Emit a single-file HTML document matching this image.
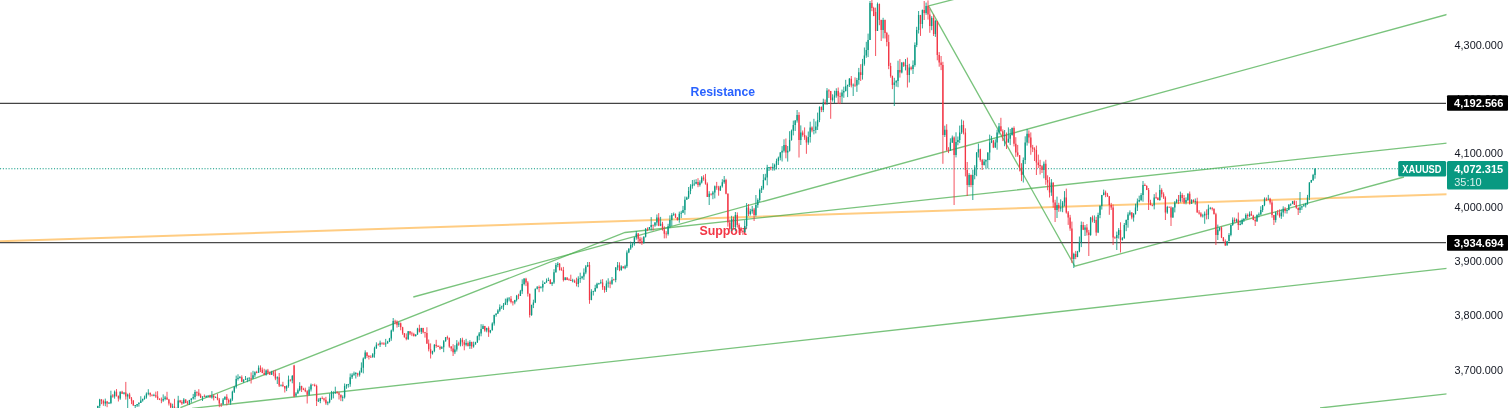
<!DOCTYPE html>
<html lang="en">
<head>
<meta charset="utf-8">
<title>XAUUSD chart</title>
<style>
html,body{margin:0;padding:0;background:#fff;}
body{width:1510px;height:408px;overflow:hidden;position:relative;font-family:"Liberation Sans",Arial,sans-serif;}
svg{position:absolute;left:0;top:0;display:block;}
text{font-family:"Liberation Sans",Arial,sans-serif;}
.ax{font-size:11.6px;fill:#131722;}
.lb{font-size:11.7px;font-weight:700;fill:#fff;}
</style>
</head>
<body>
<svg width="1510" height="408" viewBox="0 0 1510 408">
<defs><clipPath id="pane"><rect x="0" y="0" width="1446.5" height="408"/></clipPath></defs>
<rect width="1510" height="408" fill="#fff"/>
<g clip-path="url(#pane)">
<!-- current price dotted line -->
<line x1="0" y1="168.8" x2="1398" y2="168.8" stroke="#089981" stroke-opacity="1" stroke-width="1.1" stroke-dasharray="1.1 1.74"/>
<!-- orange trend -->
<line x1="0" y1="241.3" x2="1447" y2="194.3" stroke="#ffb74d" stroke-opacity=".7" stroke-width="2"/>
<!-- green trend lines -->
<g stroke="#4caf50" stroke-width="1.3" fill="none" stroke-opacity=".75">
<polyline points="180.4,407.7 625,232.5 1447,143.2"/>
<line x1="413.3" y1="297" x2="1447" y2="14.5"/>
<line x1="192" y1="408.4" x2="1447" y2="268.4"/>
<line x1="1320" y1="408" x2="1447" y2="393.9"/>
<polyline points="963.1,-3 928.6,5.9 1074.8,266.2 1404,177"/>
</g>
<!-- horizontal levels -->
<line x1="0" y1="103.38" x2="1446" y2="103.38" stroke="#444" stroke-width="1.25"/>
<line x1="0" y1="242.62" x2="1446" y2="242.62" stroke="#4a4a4a" stroke-width="1.25"/>
<!-- text drawings -->
<text x="690.6" y="96" font-size="12.5" font-weight="700" fill="#2962ff" textLength="64.4" lengthAdjust="spacingAndGlyphs">Resistance</text>
<text x="699.4" y="234.8" font-size="12.5" font-weight="700" fill="#f23645" textLength="47.5" lengthAdjust="spacingAndGlyphs">Support</text>
<path d="M97.8 405.7V410M99.7 398.8V409.3M105.3 398.6V406.2M109 402V404M110.9 390.7V404.1M114.6 390.5V398.7M120.2 391.4V399.8M124 392.3V394.5M127.7 393.6V408M135.2 405.1V408.8M137.1 404V407M138.9 402.1V406.6M140.8 396.2V403M142.7 398.6V401.7M144.5 395.6V399.7M146.4 392.4V398.7M148.3 389.2V395.3M153.9 393.8V396.3M163.2 394.4V401.8M165.1 395.9V400.4M172.6 403.7V408.4M178.2 395.8V409M183.8 398.1V403.6M189.4 399.8V405M191.3 398.3V402.7M193.2 393.9V399.6M195 389.9V399.5M202.5 396.3V401M206.2 395.4V397.7M208.1 395.4V397.6M211.9 391.1V398.6M215.6 396.4V397.9M223.1 398V404.7M224.9 396.5V399.9M230.6 398.5V404.8M232.4 390.7V400.9M234.3 386.2V393M236.2 375.6V388.5M238 374.3V380.5M239.9 376V378.6M243.6 379.1V382.9M245.5 376V380M247.4 377.7V382.2M249.2 377.3V381.3M253 370.8V378.8M254.9 371.3V377.3M258.6 365.4V372.9M266.1 369.5V375.7M271.7 370.8V374.9M277.3 376.3V384M281 384.7V386.5M286.6 385.3V391.1M288.5 375.6V387.7M292.3 375V383.3M296 392.1V395.1M297.9 388.5V393.7M299.7 382.2V391.3M309.1 386.6V395.6M311 383.5V391.5M318.4 398.3V401.9M320.3 397.7V403.2M327.8 401.3V405.2M329.6 393.4V403.3M331.5 390.9V399.9M333.4 391.3V398.4M335.3 386.7V394M342.7 395.4V401.3M344.6 383.5V398.5M346.5 384.2V388.8M348.3 383.9V387.6M350.2 373.5V386.8M352.1 373.2V379M354 371.6V375.9M355.8 372.1V378.5M359.6 370.6V376.6M361.4 362.4V372.6M363.3 357.4V373.4M365.2 350.3V359.2M372.7 353.1V357.6M374.5 346.7V357.7M376.4 342.3V348.9M380.1 340.6V347M385.7 338.9V346.9M387.6 340.8V343.5M389.5 337.9V342.1M391.3 329.6V340.8M393.2 318V331.8M398.8 321.8V327M408.2 331V340M415.7 334.3V336.6M417.5 327.8V334.8M421.3 327.8V334M432.5 350.7V354.6M434.4 344.1V352.2M441.8 346.2V349M443.7 340.1V352.2M445.6 337.2V341.7M454.9 345.2V354.1M456.8 340.1V351.5M460.5 338.1V346.4M466.1 338.8V346.3M469.9 340.2V348.9M473.6 341.6V347.7M475.5 341.8V344.5M477.4 335.6V343M479.2 332V340.3M481.1 324.2V336.3M483 324.3V329.1M486.7 327.7V332.3M490.4 329.9V333.3M492.3 322.3V330.5M494.2 314.7V325.6M496.1 313.5V316.7M497.9 309.2V314M499.8 304.4V311.8M501.7 305.7V309M503.5 303V309.9M505.4 298.6V304.8M507.3 297.5V305.1M509.1 297V301.4M514.8 299.8V304.3M516.6 294.9V301.5M520.4 289.9V296M522.2 279.3V293.9M524.1 278V285.4M531.6 304.6V315.9M533.4 299.7V308.1M535.3 288.6V303.1M537.2 286V289.4M540.9 286.1V288.5M542.8 280.5V291.7M544.7 282.3V284M546.5 278.5V282.6M548.4 277.6V281.1M552.1 281.9V285.9M554 269.2V283.9M555.9 263V272.7M557.8 262.1V267.2M565.2 277.2V280.3M572.7 278.8V282.4M578.3 276.3V287.2M580.2 272.7V282.9M582.1 275.8V279.4M583.9 268.4V279.9M585.8 265V274.2M587.7 262V267.1M591.4 289.2V300.3M593.3 290.8V295.5M595.2 284.8V291.9M597 282.7V288.6M598.9 282.8V284.9M600.8 279.6V284.1M606.4 280.5V292M608.2 278.3V287.6M612 277V284.8M615.7 267.1V282.3M617.6 262V270.2M621.3 265.3V270.8M625.1 264.8V269.3M626.9 250.4V267.9M628.8 248.4V253.2M630.7 241.6V249.9M632.5 242.4V247.5M634.4 236.9V245.7M636.3 231V239.7M643.8 236.3V243.8M645.6 228V237.5M649.4 227V229.7M651.2 217.1V230.4M655 222.2V226.8M656.9 214.5V225.6M660.6 216.9V226.2M668.1 223.8V235.5M669.9 215.4V228.1M671.8 213.1V226M673.7 212.5V215.9M679.3 211.6V222.7M681.2 210.8V218.1M683 205.9V213.1M684.9 196.5V214.7M686.8 196.6V199.7M688.6 187V199M690.5 184.2V194.2M692.4 180V188.7M694.2 179.7V186.1M696.1 179.2V184.3M699.9 180.3V186.6M701.7 176.1V183.5M709.2 191.2V205M712.9 190.9V199.2M714.8 185.5V198.4M720.4 185.7V190.9M722.3 179.2V187.6M724.2 176V183.8M731.6 215.8V231.1M735.4 212V230.9M744.7 220.2V232.7M746.6 203.1V228.6M750.3 208.8V215.5M752.2 205.9V213.7M755.9 195V216.5M757.8 198.4V207.8M759.7 188.5V202.1M761.6 185.9V193M763.4 174.1V189.7M765.3 173.8V180.5M767.2 164.8V185.3M769 167V171M772.8 163.2V170.7M774.6 163.7V170.5M776.5 158.7V169.4M778.4 156.6V165M780.3 152V160.3M782.1 146.1V161.5M784 139.3V152.5M787.7 146V161.6M789.6 131.2V151.6M791.5 129.6V140.7M793.3 120.6V135.4M795.2 120.1V131M797.1 110V122.6M800.8 125.4V145M808.3 131.5V144.8M810.2 121.7V142.6M813.9 118.8V134.4M815.8 121.4V133.4M817.6 112.6V130M819.5 106.3V122.2M823.3 98.7V112.1M827 88.1V105M832.6 94.3V101.6M834.5 90.7V103.1M836.3 88.3V97.7M842 89.6V102.8M843.8 86.7V97.8M845.7 79.8V91.5M847.6 84.6V97.1M849.4 78V87M853.2 83.5V96M856.9 77.9V91.9M858.8 67.9V84.6M862.5 58.9V79.6M864.4 47.5V65.7M866.3 41.8V57.8M868.1 33.6V57.1M870 1V40M877.5 2.5V31M883.1 17.8V38.4M894.3 77.8V106M896.2 80.1V86.7M898 60.7V87.2M901.8 62.2V73.4M905.5 59V70.4M909.3 63.8V82.5M913 60.4V74M914.9 42.4V66.7M916.7 26.8V47.1M918.6 11V33.5M922.4 9.5V28.4M926.1 2.6V14.8M931.7 16.2V30.2M935.4 19.9V36.9M944.8 125.7V137M950.4 138.3V150.8M952.3 135.5V143M956 132.3V157.4M957.9 136.5V145.3M959.7 125.6V143.1M961.6 119.5V134M969.1 173.1V187.1M972.8 169.7V200M974.7 165.2V179.3M976.6 152.1V176.2M978.4 143.6V157.5M984.1 159.2V165.5M985.9 159.4V168.2M987.8 152.3V168.3M989.7 134.6V160.1M991.5 135.9V143.1M995.3 139.3V147.8M997.1 129.7V149.7M999 123V134.5M1004.6 130V146.2M1008.4 127.4V142.6M1010.2 129V145.1M1012.1 127.5V135.7M1023.3 157.5V182.5M1025.2 136.3V164.1M1027.1 129V145.6M1043.9 161.5V178.3M1051.4 179.1V195.9M1057 196.6V218M1060.7 199.3V211.6M1062.6 201V212.2M1064.5 191.1V206.4M1073.8 252.7V268M1077.5 250.9V257.2M1079.4 236.5V252.3M1081.3 221.5V247.1M1085 225.1V236M1090.6 216.9V235.8M1094.4 215.4V223M1098.1 212.7V233.1M1100 205.1V218.2M1101.8 194.9V209.6M1103.7 189.6V195.4M1116.8 231.6V250M1118.7 228.1V238.6M1122.4 237.1V240.6M1124.3 223V238.9M1126.2 219.5V231.2M1128 212.3V227.7M1129.9 210.4V215.6M1133.6 213V221.6M1135.5 203.7V214.4M1137.4 198.5V211M1139.2 195.7V202.4M1141.1 193.1V201.2M1143 181V201.7M1154.2 194.1V209.4M1159.8 184.8V200.8M1167.3 205.8V213.8M1172.9 207.2V217.8M1174.8 201V212.4M1176.6 198.9V203.4M1180.4 191.6V202.5M1186 197.4V204.4M1187.9 193.2V201.1M1191.6 199.2V203.9M1195.3 198.5V204.6M1202.8 213.8V217.5M1204.7 211.5V223.8M1208.4 204.7V219.2M1210.3 206.9V209.5M1217.8 224.6V240M1219.6 227.4V231.2M1227.1 241.2V245.4M1229 233.1V241.3M1230.9 224.9V236.3M1232.7 217.4V225.9M1236.5 218.6V222.3M1240.2 220.5V225.3M1242.1 218.6V224.7M1243.9 218.3V222M1245.8 213.4V219M1249.6 211.5V217.2M1257 214.3V222M1258.9 212.5V217.4M1260.8 206.3V214.8M1262.6 205V212.1M1264.5 197.4V206.2M1268.3 194.9V200.2M1275.7 211.6V222.5M1281.3 209.4V218.9M1283.2 206.3V216.7M1287 209.3V213.6M1288.8 204.4V210.4M1290.7 203.6V206.1M1292.6 200.9V204.2M1300 192V213M1301.9 205.9V209.9M1303.8 203.9V206.6M1305.7 202.8V207.5M1307.5 194.9V204.8M1309.4 182.2V200.1M1311.3 179.9V182.7M1313.1 173.9V181M1315 168.1V178.7" stroke="#089981" stroke-width="1" stroke-opacity=".85" fill="none"/>
<path d="M101.5 399.1V404.2M103.4 399.6V405.8M107.1 400.9V407.2M112.8 394.1V397.7M116.5 389.1V396.6M118.4 395.4V401.5M122.1 390.8V394M125.8 381.9V399.6M129.6 392.8V398.8M131.5 397V404.1M133.3 400V405.7M150.2 392.7V396.7M152 394.5V396.3M155.8 391.6V397.9M157.6 391.2V400M159.5 398.6V400.1M161.4 397.5V403.2M167 391.8V399.9M168.9 398.9V405.5M170.7 402.7V410M174.5 398.8V410M176.3 407.6V410M180.1 399.9V403.1M181.9 400.2V404.9M185.7 399.3V403.2M187.5 400.8V404.6M196.9 391.3V396.1M198.8 389.2V396.3M200.6 393.6V398M204.4 394.5V396.9M210 394.8V397.7M213.7 394.3V400.5M217.5 393.7V400.3M219.3 398V407.2M221.2 403.4V407M226.8 394.2V405.3M228.7 398.6V403.8M241.8 375.4V381.9M251.1 372.4V383.5M256.7 370.8V373.3M260.5 365.4V372.1M262.3 367.5V373.2M264.2 368.8V375.3M267.9 368.9V374.4M269.8 371.6V374.9M273.6 370.6V376.2M275.4 369.9V380.2M279.2 373V387M282.9 381.8V387.1M284.8 386V392.5M290.4 379.3V381.5M294.1 364.8V397.2M301.6 385.7V392M303.5 387.8V390.2M305.3 387.7V392.2M307.2 390.2V403.5M312.8 384.6V385.5M314.7 383.6V386.6M316.6 384.6V406M322.2 396.4V399.2M324 397.8V401.5M325.9 396.8V404.8M337.1 391.1V393.5M339 391.8V399.5M340.9 394.6V401.1M357.7 372.8V376.7M367 352.3V357.9M368.9 355V359.5M370.8 355.2V357.8M378.3 343.5V345.3M382 342.5V344.7M383.9 342.3V344.9M395.1 319.7V324.3M397 320.4V327.6M400.7 322.5V330.3M402.6 326.8V334.8M404.4 333.1V337.6M406.3 333.4V340.3M410 331.2V335.1M411.9 331.8V336.1M413.8 332.8V336.6M419.4 324.7V332.5M423.1 327.8V333.4M425 331.9V337.6M426.9 327.3V344M428.7 339.5V351.4M430.6 343.4V358.5M436.2 339.8V347.8M438.1 345.1V346.9M440 345.6V349.9M447.4 335.6V339.7M449.3 337.7V347.8M451.2 346.1V351.3M453.1 344.2V356M458.7 341.7V345.8M462.4 337.7V346.2M464.3 340.1V350.3M468 341.4V346.5M471.7 341.7V348.8M484.8 325.9V331.8M488.6 326.4V336.9M511 296V303.4M512.9 301V305.5M518.5 293.8V299.2M526 277.8V286.1M527.8 281.1V296.6M529.7 293.6V317.5M539.1 285.5V292.2M550.3 279V284.1M559.6 263V270.6M561.5 267.4V270.4M563.4 266.9V281.5M567.1 277.3V280.1M569 278.4V280.2M570.8 274.7V281M574.6 279.5V282.8M576.5 277.7V286.4M589.5 262V303.8M602.6 279.1V289.9M604.5 286V292.7M610.1 280.7V288.2M613.8 278.8V280.4M619.5 262.3V271.2M623.2 266.1V268.4M638.2 233V242.2M640 236.8V243.7M641.9 237.5V244.9M647.5 227.4V231.1M653.1 224.9V230.6M658.7 213.1V226.2M662.5 221.8V230.6M664.3 226.3V238.4M666.2 231.2V238.3M675.5 213.4V218M677.4 217.1V220.6M698 178.2V187.2M703.6 175.2V180.8M705.5 173.9V184.7M707.3 182.4V196.9M711.1 193.5V195.5M716.7 181.9V189.8M718.6 185.8V195.7M726 178.8V194.3M727.9 193.3V226.6M729.8 219.5V230.2M733.5 216.6V229.4M737.3 212.4V227.5M739.1 223.3V233.3M741 226.9V232.8M742.9 230V235M748.5 204V216M754.1 207.9V221M770.9 166.6V170.2M785.9 138.5V158.3M799 112.2V157.5M802.7 130.5V136.7M804.6 127.4V139.9M806.4 135.6V153.8M812 126.4V132.3M821.4 106.4V112.1M825.1 99.5V104.9M828.9 89.2V98M830.7 90.9V118.8M838.2 87.5V104M840.1 92.5V104.1M851.3 76V87.4M855 77.4V86.9M860.7 64.2V81M871.9 -0.4V11.2M873.7 6.8V16.2M875.6 7.6V56M879.4 3.5V25.2M881.2 19.7V41M885 19.6V38.5M886.8 31.9V46.3M888.7 34.7V69.2M890.6 62.8V77.7M892.4 75.6V89.1M899.9 59.1V77.6M903.7 61.8V67M907.4 57.6V87.5M911.1 66.3V70.3M920.5 14.9V35.9M924.2 1V20M928 0.4V19.6M929.8 8.7V32.8M933.6 14.4V36M937.3 20.9V60.3M939.2 52.1V66.7M941.1 56V70.1M942.9 61.8V163.8M946.7 124.2V151.3M948.5 147.2V153.1M954.1 136.4V205M963.5 120.6V134.4M965.4 128.3V176.4M967.2 162V196M971 174.5V187.2M980.3 148.7V161.7M982.2 158.9V170M993.4 140V148.1M1000.9 117.8V131.5M1002.8 129.4V141.1M1006.5 132.5V149M1014 126.4V146.4M1015.8 137.2V156.9M1017.7 144.9V156.8M1019.6 155.1V171.4M1021.5 163.2V181.1M1028.9 130.4V143.3M1030.8 132.4V154.8M1032.7 144.9V152.1M1034.5 147.3V161M1036.4 145.6V175M1038.3 154.6V168M1040.1 159.8V174.5M1042 165.1V173M1045.8 159.8V184.8M1047.6 175.3V190.2M1049.5 177.1V197.5M1053.2 182.5V207.7M1055.1 199.8V222M1058.8 202.8V211.8M1066.3 188.6V213.6M1068.2 211V224.9M1070.1 214.9V230.8M1071.9 221.6V263M1075.7 250.9V259.2M1083.2 221.9V230.1M1086.9 224.1V235.5M1088.8 229.9V256M1092.5 215.5V222.4M1096.2 216.8V235.8M1105.6 190.6V197.2M1107.5 192.9V196.9M1109.3 196.2V214.8M1111.2 202.9V209.9M1113.1 204.5V245M1114.9 236.4V238.7M1120.5 222.3V252.5M1131.8 212.1V219.3M1144.9 183.5V186M1146.7 185.2V190.1M1148.6 188V210M1150.5 199.8V205.4M1152.3 204.4V206.3M1156.1 192.4V198.9M1157.9 197.3V200.2M1161.7 188.3V197.4M1163.6 192.3V199M1165.4 196.3V220M1169.2 206.8V207.6M1171 206.3V226M1178.5 195V204.1M1182.2 193.2V202M1184.1 195V204.2M1189.7 191.5V204.6M1193.5 199.3V202.5M1197.2 197.7V212.7M1199.1 210.2V214.6M1200.9 212.2V217.3M1206.6 209.4V219.4M1212.2 207.2V210.5M1214 208.5V214.3M1215.9 212.8V245M1221.5 226.5V238.1M1223.4 237V241.5M1225.3 239.4V245.8M1234.6 217.6V222.6M1238.3 212.5V230M1247.7 213.5V218.7M1251.4 211.1V215.8M1253.3 214.8V220.2M1255.2 217.8V226M1266.4 197.5V201M1270.1 197.8V204.5M1272 200.4V217.7M1273.9 214.9V225M1277.6 210.1V215.3M1279.5 209.4V217.7M1285.1 207.1V213.4M1294.4 200.3V205M1296.3 200.9V208.8M1298.2 207.6V215" stroke="#f23645" stroke-width="1" stroke-opacity=".85" fill="none"/>
<path d="M97.8 406V409M99.7 399.6V406M105.3 401.6V403.5M109 402.8V403.6M110.9 395.6V402.9M114.6 391.7V396.5M120.2 391.8V398.6M124 392.5V393.7M127.7 394.4V396.5M135.2 405.1V405.9M137.1 404.1V405.5M138.9 402.9V404.1M140.8 400.5V402.9M142.7 399.1V400.5M144.5 397.6V399.1M146.4 393.8V397.6M148.3 392.7V393.8M153.9 395V395.8M163.2 399V400.5M165.1 397.6V399M172.6 406.4V407.6M178.2 400.5V409M183.8 399.5V403.5M189.4 400.1V403.5M191.3 398.6V400.1M193.2 397.1V398.6M195 392V397.1M202.5 396.6V397.6M206.2 396.1V396.9M208.1 395.4V396.2M211.9 395.8V397.6M215.6 397V397.8M223.1 399.6V404.3M224.9 396.7V399.6M230.6 399.6V402.5M232.4 391.8V399.6M234.3 386.8V391.8M236.2 379V386.8M238 377.7V379M239.9 377.1V377.9M243.6 380V381.7M245.5 379.3V380.1M247.4 378.5V379.5M249.2 377.8V378.6M253 375.2V378.7M254.9 372.2V375.2M258.6 367.7V372.7M266.1 370.4V374.8M271.7 372.2V374.8M277.3 377.2V378.5M281 384.7V385.5M286.6 386V388.5M288.5 379.8V386M292.3 376V380.4M296 393.5V396.5M297.9 390.3V393.5M299.7 386V390.3M309.1 389.6V394.8M311 384.8V389.6M318.4 400.6V401.4M320.3 398.1V401M327.8 402.2V403.3M329.6 398.5V402.2M331.5 393.5V398.5M333.4 392.9V393.7M335.3 392.2V393.1M342.7 397V397.8M344.6 386V397.2M346.5 384.6V386M348.3 384V384.8M350.2 377.2V384.2M352.1 374.8V377.2M354 373.5V374.8M355.8 373.1V373.9M359.6 372.2V374.7M361.4 367.8V372.2M363.3 358.5V367.8M365.2 352.4V358.5M372.7 354.2V357.2M374.5 348.2V354.2M376.4 344.8V348.2M380.1 342.7V344.8M385.7 343.5V344.3M387.6 341.5V343.5M389.5 338.5V341.5M391.3 330.5V338.5M393.2 321V330.5M398.8 323.3V324.8M408.2 331.3V339M415.7 334.4V336M417.5 328.5V334.4M421.3 327.9V331.8M432.5 351V353.5M434.4 344.8V351M441.8 347.3V348.5M443.7 341.2V347.3M445.6 337.2V341.2M454.9 349.4V352.2M456.8 343.5V349.4M460.5 339.7V344.5M466.1 343.1V344.8M469.9 341.9V346M473.6 344.4V346.4M475.5 342.2V344.4M477.4 336.2V342.2M479.2 333.5V336.2M481.1 329V333.5M483 326V329M486.7 327.9V330.5M490.4 330.3V332.2M492.3 323.5V330.3M494.2 315.1V323.5M496.1 313.5V315.1M497.9 310.5V313.5M499.8 307.2V310.5M501.7 306.5V307.3M503.5 304.7V306.5M505.4 302.5V304.7M507.3 298.8V302.5M509.1 298.4V299.2M514.8 300V302.4M516.6 295.7V300M520.4 291.2V295.9M522.2 284.1V291.2M524.1 278.8V284.1M531.6 305V315M533.4 302.5V305M535.3 288.8V302.5M537.2 287.2V288.8M540.9 287.2V288M542.8 283.9V287.5M544.7 282.5V283.9M546.5 281V282.5M548.4 280V281M552.1 282.5V284M554 272.3V282.5M555.9 265V272.3M557.8 263.8V265M565.2 277.5V280M572.7 280.5V281.3M578.3 278.8V284.1M580.2 278V278.8M582.1 276.6V278M583.9 272.5V276.6M585.8 266.4V272.5M587.7 265V266.4M591.4 291.5V300M593.3 291V291.8M595.2 288V291.2M597 283.8V288M598.9 282.9V283.8M600.8 282.3V283.1M606.4 283.6V290M608.2 282.5V283.6M612 279.8V283.7M615.7 267.5V280M617.6 265.3V267.5M621.3 266.6V270M625.1 266.2V268.3M626.9 252.5V266.2M628.8 248.6V252.5M630.7 245V248.6M632.5 243.9V245M634.4 237.5V243.9M636.3 233.5V237.5M643.8 236.8V243M645.6 229V236.8M649.4 227.1V229.1M651.2 225V227.1M655 222.5V225.5M656.9 217.5V222.5M660.6 223.8V225.8M668.1 226.2V233.9M669.9 220.1V226.2M671.8 215V220.1M673.7 214.2V215M679.3 213.8V220M681.2 212.8V213.8M683 210V212.8M684.9 199.7V210M686.8 197.5V199.7M688.6 191.1V197.5M690.5 186.2V191.1M692.4 184.6V186.2M694.2 183.8V184.6M696.1 181.9V183.8M699.9 182.6V185M701.7 177.5V182.6M709.2 193.8V196.9M712.9 192.5V194.6M714.8 186.2V192.5M720.4 186.2V190.6M722.3 182.3V186.2M724.2 180V182.3M731.6 219V229M735.4 215V227M744.7 226V232M746.6 207.5V226M750.3 211.2V214M752.2 209.6V211.2M755.9 205V215M757.8 200V205M759.7 190V200M761.6 188V190M763.4 180V188M765.3 177.6V180M767.2 167.6V177.6M769 167.1V167.9M772.8 167.1V167.9M774.6 165V167.5M776.5 160.9V165M778.4 157.7V160.9M780.3 152.5V157.7M782.1 150.8V152.5M784 145V150.8M787.7 150.7V152.5M789.6 140V150.7M791.5 130.8V140M793.3 125V130.8M795.2 120.5V125M797.1 115V120.5M800.8 132.5V140M808.3 137V142.5M810.2 127.5V137M813.9 129.9V130.7M815.8 126.4V130M817.6 120V126.4M819.5 107V120M823.3 102.3V110M827 90.5V102.5M832.6 97.5V100M834.5 95.5V97.5M836.3 91.1V95.5M842 92.5V96.4M843.8 91V92.5M845.7 86.2V91M847.6 85.1V86.2M849.4 78.8V85.1M853.2 84.8V85.6M856.9 80V85.5M858.8 72.3V80M862.5 63.8V75M864.4 55.6V63.8M866.3 50V55.6M868.1 40V50M870 3V40M877.5 4V31M883.1 20V30M894.3 82.5V85M896.2 81.1V82.5M898 70V81.1M901.8 62.5V72.5M905.5 65V65.8M909.3 67.5V75M913 65V69.1M914.9 45V65M916.7 30V45M918.6 15V30M922.4 10V24M926.1 6V13M931.7 18V26M935.4 21V34M944.8 129.8V135M950.4 142.5V150.6M952.3 137.5V142.5M956 141.9V155M957.9 140V141.9M959.7 132.5V140M961.6 125V132.5M969.1 175V185M972.8 175V185.1M974.7 167.5V175M976.6 152.5V167.5M978.4 149.3V152.5M984.1 161.6V165M985.9 160V161.6M987.8 152.5V160M989.7 142.5V152.5M991.5 140.6V142.5M995.3 142.5V147.5M997.1 132.5V142.5M999 126.2V132.5M1004.6 135V136.3M1008.4 138.8V142.5M1010.2 135V138.8M1012.1 128.1V135M1023.3 160V175M1025.2 142.5V160M1027.1 133.8V142.5M1043.9 163.8V170M1051.4 182.5V192.5M1057 205V210M1060.7 207.5V208.4M1062.6 202.5V207.5M1064.5 197.5V202.5M1073.8 254V259M1077.5 251.4V257M1079.4 242V251.4M1081.3 225V242M1085 227.5V229.8M1090.6 217.5V235M1094.4 219.7V220.5M1098.1 215V232.5M1100 205.9V215M1101.8 195V205.9M1103.7 192.5V195M1116.8 235V238.1M1118.7 230V235M1122.4 238V240M1124.3 225V238M1126.2 220V225M1128 214.6V220M1129.9 212.5V214.6M1133.6 214.3V217.5M1135.5 207.5V214.3M1137.4 201.4V207.5M1139.2 200V201.4M1141.1 195V200M1143 185V195M1154.2 197.5V205.5M1159.8 190V200M1167.3 206.9V212.5M1172.9 207.5V217.5M1174.8 202.5V207.5M1176.6 200V202.5M1180.4 195V201M1186 200V202.5M1187.9 193.8V200M1191.6 200.1V203.8M1195.3 201.2V202M1202.8 215.5V216.3M1204.7 213.8V215.5M1208.4 208.8V214.8M1210.3 208.2V209M1217.8 229.7V235M1219.6 227.5V229.7M1227.1 241.2V245.4M1229 235V241.2M1230.9 225V235M1232.7 219.8V225M1236.5 219.4V221.2M1240.2 223.9V225M1242.1 220V223.9M1243.9 218.8V220M1245.8 215V218.8M1249.6 213.8V216.1M1257 215V221.2M1258.9 214.3V215.1M1260.8 210V214.4M1262.6 205V210M1264.5 198.8V205M1268.3 198.7V199.5M1275.7 212.5V220M1281.3 212.6V216.2M1283.2 208.8V212.6M1287 210V210.9M1288.8 204.6V210M1290.7 203.8V204.6M1292.6 201.2V203.8M1300 207.5V210M1301.9 206.2V207.5M1303.8 205.2V206.2M1305.7 203.8V205.2M1307.5 197.5V203.8M1309.4 182.5V197.5M1311.3 180V182.5M1313.1 175V180M1315 168.8V175" stroke="#089981" stroke-width="1.3" fill="none"/>
<path d="M101.5 399.6V400.9M103.4 400.9V403.5M107.1 401.6V403.5M112.8 395.6V396.5M116.5 391.7V395.9M118.4 395.9V398.6M122.1 391.8V393.7M125.8 392.5V396.5M129.6 394.4V398.6M131.5 398.6V400.8M133.3 400.8V405.5M150.2 392.7V394.8M152 394.8V395.6M155.8 395.3V396.4M157.6 396.4V398.6M159.5 398.6V399.8M161.4 399.7V400.5M167 397.6V399.4M168.9 399.4V403.5M170.7 403.5V407.6M174.5 406.4V408.4M176.3 408.3V409.1M180.1 400.5V402M181.9 402V403.5M185.7 399.5V402.9M187.5 402.8V403.6M196.9 392V392.8M198.8 392.7V395.5M200.6 395.5V397.6M204.4 396.3V397.1M210 395.6V397.6M213.7 395.8V397.6M217.5 397.2V399.6M219.3 399.6V403.5M221.2 403.5V404.3M226.8 396.7V400.1M228.7 400.1V402.5M241.8 377.2V381.7M251.1 377.9V378.7M256.7 372.1V372.9M260.5 367.7V369.8M262.3 369.8V373.1M264.2 373.1V374.8M267.9 370.4V372.5M269.8 372.5V374.8M273.6 372.2V373.6M275.4 373.6V378.5M279.2 377.2V385.4M282.9 384.8V386.1M284.8 386.1V388.5M290.4 379.7V380.5M294.1 365.5V396.5M301.6 386V389.5M303.5 389.2V390M305.3 389.8V391.3M307.2 391.3V394.8M312.8 384.4V385.2M314.7 384.9V386M316.6 386V401M322.2 397.9V398.7M324 398.6V399.8M325.9 399.8V403.3M337.1 392.2V393.3M339 393.3V394.8M340.9 394.8V397.5M357.7 373.5V374.7M367 352.4V356M368.9 356V357M370.8 356.7V357.5M378.3 344.4V345.2M382 342.7V343.5M383.9 343.5V344.3M395.1 321V321.8M397 321.8V324.8M400.7 323.3V327.2M402.6 327.2V333.2M404.4 333.2V337.2M406.3 337.2V339M410 331.3V333.5M411.9 333.4V334.2M413.8 334.1V336M419.4 328.5V331.8M423.1 327.9V332.2M425 332.2V333M426.9 333V343.5M428.7 343.5V349.2M430.6 349.2V353.5M436.2 344.8V345.9M438.1 345.9V346.9M440 346.9V348.5M447.4 337.1V337.9M449.3 337.8V346.4M451.2 346.4V348.6M453.1 348.6V352.2M458.7 343.5V344.5M462.4 339.7V342.2M464.3 342.2V344.8M468 343.1V346M471.7 341.9V346.4M484.8 326V330.5M488.6 327.9V332.2M511 298.8V302M512.9 301.8V302.6M518.5 295.4V296.2M526 278.8V282.5M527.8 282.5V293.8M529.7 293.8V315M539.1 287.1V287.9M550.3 280V284M559.6 263.8V270M561.5 269.6V270.4M563.4 270.1V280M567.1 277.5V280M569 279.6V280.4M570.8 280V281M574.6 280.8V282.5M576.5 282.5V284.1M589.5 265V300M602.6 282.5V287.2M604.5 287.2V290M610.1 282.5V283.7M613.8 279.5V280.3M619.5 265.3V270M623.2 266.6V268.3M638.2 233.5V238.8M640 238.8V241.2M641.9 241.2V243M647.5 228.7V229.5M653.1 224.8V225.6M658.7 217.5V225.8M662.5 223.8V229.5M664.3 229.5V233.8M666.2 233.4V234.2M675.5 214.2V217.5M677.4 217.5V220M698 181.9V185M703.6 177.5V179.2M705.5 179.2V183.8M707.3 183.8V196.9M711.1 193.8V194.6M716.7 186.2V187.5M718.6 187.5V190.6M726 180V193.8M727.9 193.8V222.5M729.8 222.5V229M733.5 219V227M737.3 215V225M739.1 225V229M741 229V230.9M742.9 230.9V232M748.5 207.5V214M754.1 209.6V215M770.9 167.1V167.9M785.9 145V152.5M799 115V140M802.7 132.5V135.1M804.6 135.1V137.5M806.4 137.5V142.5M812 127.5V130.6M821.4 107V110M825.1 102V102.8M828.9 90.4V91.2M830.7 91V100M838.2 91.1V96.2M840.1 95.9V96.7M851.3 78.8V85.4M855 84.8V85.6M860.7 72.3V75M871.9 3V8M873.7 8V16M875.6 12V31M879.4 4V20M881.2 20V30M885 20V33M886.8 33V42M888.7 42V66M890.6 66V76M892.4 76V85M899.9 70V72.5M903.7 62.5V65.8M907.4 65V75M911.1 67.5V69.1M920.5 15V24M924.2 10V13M928 6V14.5M929.8 14.5V26M933.6 18V34M937.3 21V55M939.2 55V62.5M941.1 62.5V65M942.9 65V135M946.7 129.8V150M948.5 149.9V150.7M954.1 137.5V155M963.5 125V132.5M965.4 132.5V170M967.2 170V185M971 175V185.1M980.3 149.3V160M982.2 160V165M993.4 140.6V147.5M1000.9 126.2V131.2M1002.8 131.2V136.3M1006.5 135V142.5M1014 128.1V143.8M1015.8 143.8V152.5M1017.7 152.5V155.3M1019.6 155.3V167.5M1021.5 167.5V175M1028.9 133.8V137.5M1030.8 137.5V147.5M1032.7 147.5V148.8M1034.5 148.8V150M1036.4 150V162.5M1038.3 162.5V165M1040.1 165V166.2M1042 166.2V170M1045.8 163.8V180M1047.6 180V182.6M1049.5 182.6V192.5M1053.2 182.5V202.5M1055.1 202.5V210M1058.8 205V208.4M1066.3 197.5V212.5M1068.2 212.5V217.5M1070.1 217.5V228.5M1071.9 228.5V259M1075.7 254V257M1083.2 225V229.8M1086.9 227.5V232.5M1088.8 232.5V235M1092.5 217.5V220.3M1096.2 220V232.5M1105.6 192.5V194.7M1107.5 194.7V196.2M1109.3 196.2V205M1111.2 205V207.4M1113.1 207.4V237.5M1114.9 237.4V238.2M1120.5 230V240M1131.8 212.5V217.5M1144.9 185V185.9M1146.7 185.9V190M1148.6 190V202.5M1150.5 202.5V205M1152.3 204.9V205.7M1156.1 197.2V198M1157.9 197.8V200M1161.7 190V194.3M1163.6 194.3V197.5M1165.4 197.5V212.5M1169.2 206.8V207.6M1171 207.5V217.5M1178.5 200V201M1182.2 195V197.9M1184.1 197.9V202.5M1189.7 193.8V203.8M1193.5 200.1V201.9M1197.2 201.2V212.5M1199.1 212.5V213.6M1200.9 213.6V216.2M1206.6 213.8V214.8M1212.2 208.2V209M1214 208.8V214.2M1215.9 214.2V235M1221.5 227.5V237.5M1223.4 237.5V241.2M1225.3 241.2V245.4M1234.6 219.8V221.2M1238.3 219.4V225M1247.7 215V216.1M1251.4 213.8V215.6M1253.3 215.6V220M1255.2 220V221.2M1266.4 198.7V199.5M1270.1 198.8V202.5M1272 202.5V215M1273.9 215V220M1277.6 212.5V213.5M1279.5 213.5V216.2M1285.1 208.8V210.9M1294.4 201.2V205M1296.3 205V207.8M1298.2 207.8V210" stroke="#f23645" stroke-width="1.3" fill="none"/>

</g>
<!-- XAUUSD tag -->
<rect x="1398.2" y="160.9" width="48" height="15.7" rx="1.5" fill="#089981"/>
<text x="1402.3" y="172.9" font-size="11" font-weight="700" fill="#fff" textLength="39.2" lengthAdjust="spacingAndGlyphs">XAUUSD</text>
<!-- price axis -->
<text class="ax" x="1454.5" y="49.2" textLength="48.5" lengthAdjust="spacingAndGlyphs">4,300.000</text>
<text class="ax" x="1454.5" y="102.5" textLength="48.5" lengthAdjust="spacingAndGlyphs">4,200.000</text>
<text class="ax" x="1454.5" y="156.8" textLength="48.5" lengthAdjust="spacingAndGlyphs">4,100.000</text>
<text class="ax" x="1454.5" y="211.2" textLength="48.5" lengthAdjust="spacingAndGlyphs">4,000.000</text>
<text class="ax" x="1454.5" y="265.3" textLength="48.5" lengthAdjust="spacingAndGlyphs">3,900.000</text>
<text class="ax" x="1454.5" y="319.4" textLength="48.5" lengthAdjust="spacingAndGlyphs">3,800.000</text>
<text class="ax" x="1454.5" y="373.5" textLength="48.5" lengthAdjust="spacingAndGlyphs">3,700.000</text>
<!-- level labels -->
<rect x="1447" y="95.2" width="61" height="15.6" rx="1" fill="#000"/>
<text class="lb" x="1454" y="107" textLength="49.5" lengthAdjust="spacingAndGlyphs">4,192.566</text>
<rect x="1447" y="235" width="61" height="15.8" rx="1" fill="#000"/>
<text class="lb" x="1454" y="246.7" textLength="49.5" lengthAdjust="spacingAndGlyphs">3,934.694</text>
<!-- last price label -->
<rect x="1447" y="160.9" width="61.1" height="28.7" rx="1.5" fill="#089981"/>
<text class="lb" x="1454.2" y="172.6" textLength="49" lengthAdjust="spacingAndGlyphs">4,072.315</text>
<text x="1454.2" y="185.5" font-size="11.6" fill="#fff" fill-opacity=".85" textLength="27.5" lengthAdjust="spacingAndGlyphs">35:10</text>
</svg>
</body>
</html>
